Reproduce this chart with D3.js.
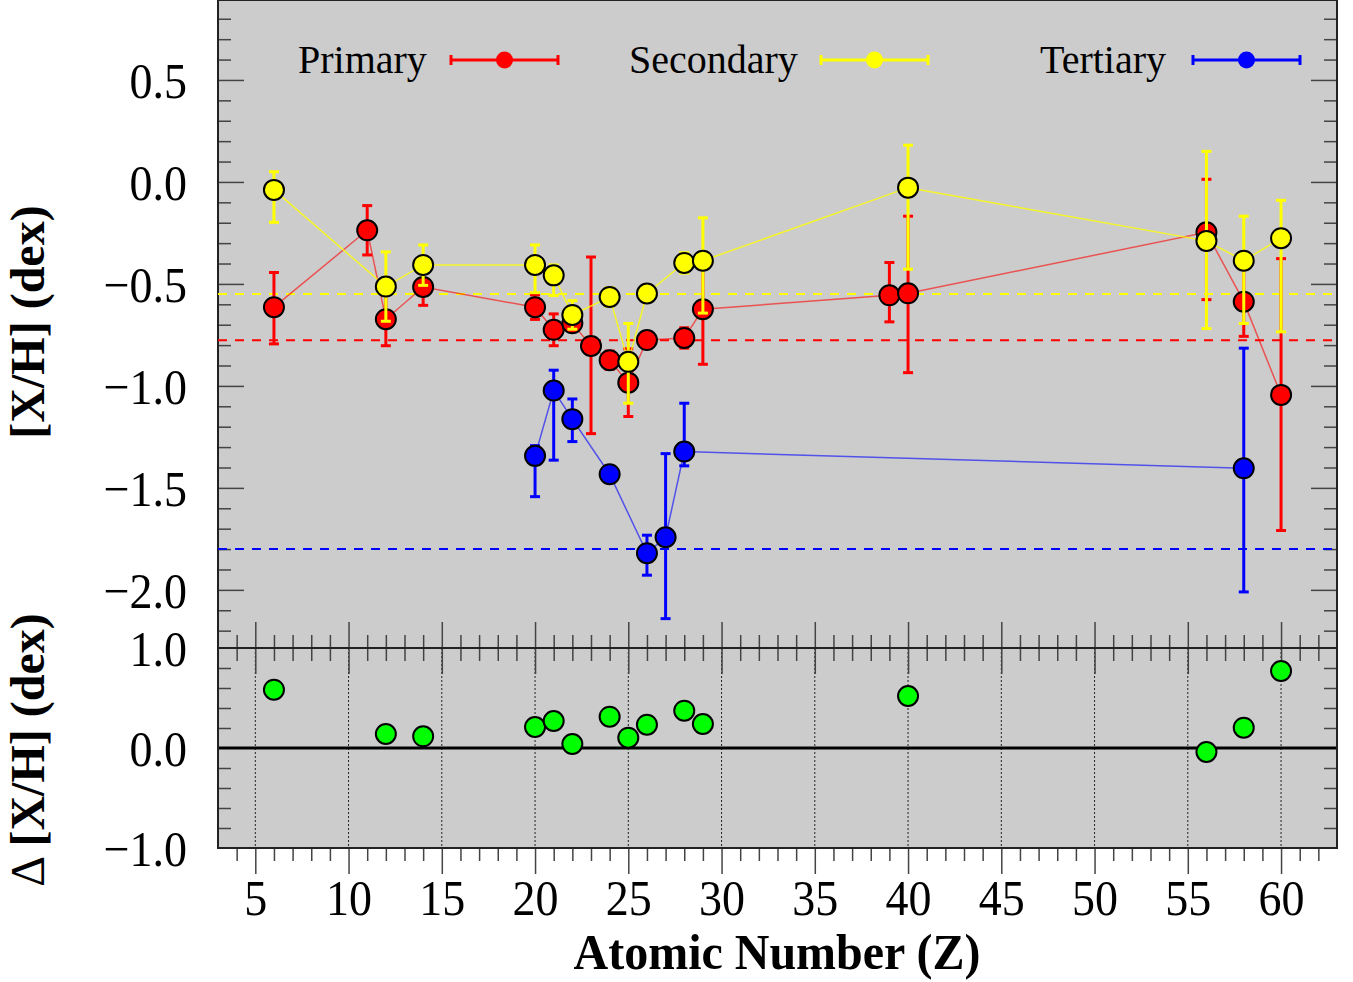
<!DOCTYPE html>
<html><head><meta charset="utf-8">
<script src="https://cdn.jsdelivr.net/npm/d3@7"></script>
<style>
body{margin:0;background:#fff}
svg text{font-family:"Liberation Serif","Times New Roman",serif;fill:#000}
</style>
</head><body>
<svg id="chart" width="1353" height="982"></svg>
<script>
// ---------------- DATA ----------------
const primaryZ     = [6, 11, 12, 14, 20, 21, 22, 23, 24, 25, 26, 28, 29, 39, 40, 56, 58, 60];
const primaryVal   = [-0.614, -0.237, -0.673, -0.515, -0.614, -0.725, -0.693, -0.804, -0.874, -0.984, -0.775, -0.765, -0.624, -0.556, -0.546, -0.247, -0.587, -1.044];
const primaryErrUp = [0.17, 0.121, 0.13, 0.09, 0.06, 0.078, 0.03, 0.436, 0.045, 0.166, 0.03, 0.05, 0.27, 0.161, 0.378, 0.26, 0.17, 0.668];
const primaryErrDn = [0.18, 0.121, 0.13, 0.09, 0.06, 0.078, 0.03, 0.43, 0.045, 0.166, 0.03, 0.05, 0.27, 0.13, 0.389, 0.33, 0.17, 0.665];

const secondaryZ     = [6, 12, 14, 20, 21, 22, 24, 25, 26, 28, 29, 40, 56, 58, 60];
const secondaryVal   = [-0.039, -0.513, -0.407, -0.407, -0.458, -0.652, -0.564, -0.882, -0.547, -0.397, -0.386, -0.028, -0.289, -0.386, -0.276];
const secondaryErrUp = [0.089, 0.17, 0.098, 0.098, 0.051, 0.07, 0.045, 0.188, 0.03, 0.05, 0.21, 0.208, 0.439, 0.218, 0.186];
const secondaryErrDn = [0.159, 0.17, 0.10, 0.136, 0.099, 0.07, 0.045, 0.203, 0.03, 0.05, 0.257, 0.40, 0.43, 0.308, 0.459];

const tertiaryZ     = [20, 21, 22, 24, 26, 27, 28, 58];
const tertiaryVal   = [-1.343, -1.023, -1.163, -1.433, -1.820, -1.742, -1.322, -1.404];
const tertiaryErrUp = [0.05, 0.10, 0.099, 0.0, 0.088, 0.41, 0.237, 0.589];
const tertiaryErrDn = [0.20, 0.341, 0.11, 0.0, 0.108, 0.399, 0.07, 0.606];

const meanPrimary = -0.776, meanSecondary = -0.549, meanTertiary = -1.80;

const deltaZ   = [6, 12, 14, 20, 21, 22, 24, 25, 26, 28, 29, 40, 56, 58, 60];
const deltaVal = [0.583, 0.14, 0.117, 0.21, 0.27, 0.04, 0.313, 0.103, 0.233, 0.373, 0.24, 0.52, -0.04, 0.203, 0.77];

const seriesNames  = ["Primary", "Secondary", "Tertiary"];
const seriesColors = ["#ff0000", "#ffff00", "#0000ff"];

const xTickValues    = [5, 10, 15, 20, 25, 30, 35, 40, 45, 50, 55, 60];
const yTopTickValues = [0.5, 0.0, -0.5, -1.0, -1.5, -2.0];
const yBotTickValues = [1.0, 0.0, -1.0];

// ---------------- LAYOUT ----------------
const L = 218, R = 1337, T1 = 0, B1 = 648, T2 = 648, B2 = 848;
const svg = d3.select("#chart");

const x = d3.scaleLinear().domain([3, 63]).range([L, R]);
const yTop = d3.scaleLinear().domain([-2.285, 0.892]).range([B1, T1]);
const yBot = d3.scaleLinear().domain([-1, 1]).range([B2, T2]);

// panel backgrounds
svg.append("rect").attr("x", L).attr("y", T1).attr("width", R - L).attr("height", B1 - T1).attr("fill", "#cccccc");
svg.append("rect").attr("x", L).attr("y", T2).attr("width", R - L).attr("height", B2 - T2).attr("fill", "#cccccc");

// dotted vertical grid in bottom panel
svg.append("g").selectAll("line").data(xTickValues).join("line")
  .attr("x1", d => x(d)).attr("x2", d => x(d)).attr("y1", T2).attr("y2", B2)
  .attr("stroke", "#222").attr("stroke-width", 1).attr("stroke-dasharray", "2,2");

// zero line
svg.append("line").attr("x1", L).attr("x2", R).attr("y1", yBot(0)).attr("y2", yBot(0))
  .attr("stroke", "#000").attr("stroke-width", 3);

// ---------------- TICKS ----------------
const minorX = d3.range(4, 63).filter(v => v % 5 !== 0);
const minorYTop = d3.range(-22, 9).map(v => v / 10).filter(v => Math.abs(v * 2 - Math.round(v * 2)) > 1e-6);
const minorYBot = [0.8, 0.6, 0.4, 0.2, -0.2, -0.4, -0.6, -0.8];
const tickColor = "#444";

function styleTicks(g) {
  g.select(".domain").remove();
  g.selectAll(".tick line").attr("stroke", tickColor).attr("stroke-width", 1.5);
}
function tickAxis(axisFn, scale, vals, size, tx, ty) {
  const g = svg.append("g").attr("transform", `translate(${tx},${ty})`)
    .call(axisFn(scale).tickValues(vals).tickSize(-size).tickFormat(""));
  styleTicks(g);
  return g;
}
// top panel
tickAxis(d3.axisTop, x, xTickValues, 26, 0, B1);
tickAxis(d3.axisTop, x, minorX, 13, 0, B1);
tickAxis(d3.axisBottom, x, xTickValues, 26, 0, T1);
tickAxis(d3.axisBottom, x, minorX, 13, 0, T1);
tickAxis(d3.axisRight, yTop, yTopTickValues, 26, R, 0);
tickAxis(d3.axisRight, yTop, minorYTop, 13, R, 0);
// bottom panel
tickAxis(d3.axisTop, x, xTickValues, 26, 0, B2);
tickAxis(d3.axisTop, x, minorX, 13, 0, B2);
tickAxis(d3.axisBottom, x, xTickValues, 26, 0, T2);
tickAxis(d3.axisBottom, x, minorX, 13, 0, T2);
tickAxis(d3.axisLeft, yBot, minorYBot, 13, L, 0);
tickAxis(d3.axisRight, yBot, minorYBot, 13, R, 0);

// labelled left axes
const fmt = d3.format(".1f");
const gTopLeft = svg.append("g").attr("transform", `translate(${L},0)`)
  .call(d3.axisLeft(yTop).tickValues(yTopTickValues).tickSize(-26).tickPadding(31).tickFormat(fmt));
styleTicks(gTopLeft);
svg.append("g").attr("transform", `translate(${L},0)`)
  .call(d3.axisLeft(yTop).tickValues(minorYTop).tickSize(-13).tickFormat("")).call(styleTicks);
const gBotLeft = svg.append("g").attr("transform", `translate(${L},0)`)
  .call(d3.axisLeft(yBot).tickValues(yBotTickValues).tickSize(0).tickPadding(31).tickFormat(fmt));
styleTicks(gBotLeft);
[gTopLeft, gBotLeft].forEach(g => g.selectAll(".tick text")
  .attr("font-size", 46).attr("dy", "0.35em").attr("transform", "scale(1,1.1)"));

// x axis labels
const gX = svg.append("g").attr("transform", `translate(0,${B2})`)
  .call(d3.axisBottom(x).tickValues(xTickValues).tickSize(0).tickFormat(d3.format("d")));
styleTicks(gX);
gX.selectAll(".tick text").attr("font-size", 46).attr("y", 0).attr("dy", 0)
  .attr("transform", "translate(0,67) scale(1,1.1)");

// frames
svg.append("rect").attr("x", L).attr("y", T1).attr("width", R - L).attr("height", B1 - T1)
  .attr("fill", "none").attr("stroke", "#222").attr("stroke-width", 2);
svg.append("rect").attr("x", L).attr("y", T2).attr("width", R - L).attr("height", B2 - T2)
  .attr("fill", "none").attr("stroke", "#222").attr("stroke-width", 2);

// ---------------- MEAN LINES ----------------
[meanPrimary, meanSecondary, meanTertiary].forEach((m, i) => {
  svg.append("line").attr("x1", L).attr("x2", R).attr("y1", yTop(m)).attr("y2", yTop(m))
    .attr("stroke", seriesColors[i]).attr("stroke-width", 2).attr("stroke-dasharray", "9,8");
});

// ---------------- SERIES ----------------
const series = [
  {z: primaryZ, v: primaryVal, up: primaryErrUp, dn: primaryErrDn},
  {z: secondaryZ, v: secondaryVal, up: secondaryErrUp, dn: secondaryErrDn},
  {z: tertiaryZ, v: tertiaryVal, up: tertiaryErrUp, dn: tertiaryErrDn}
];
const lineGen = d3.line().x(d => x(d.z)).y(d => yTop(d.v));
series.forEach((s, i) => {
  const col = seriesColors[i];
  const pts = s.z.map((z, k) => ({z, v: s.v[k], up: s.up[k], dn: s.dn[k]}));
  const g = svg.append("g");
  g.append("path").datum(pts).attr("d", lineGen).attr("fill", "none")
    .attr("stroke", col).attr("stroke-opacity", i === 1 ? 0.8 : 0.6).attr("stroke-width", 1.5);
  const eb = g.append("g").selectAll("g").data(pts.filter(d => d.up > 0 || d.dn > 0)).join("g")
    .attr("stroke", col).attr("stroke-width", 3);
  eb.append("line").attr("x1", d => x(d.z)).attr("x2", d => x(d.z))
    .attr("y1", d => yTop(d.v + d.up)).attr("y2", d => yTop(d.v - d.dn));
  eb.append("line").attr("x1", d => x(d.z) - 5).attr("x2", d => x(d.z) + 5)
    .attr("y1", d => yTop(d.v + d.up)).attr("y2", d => yTop(d.v + d.up));
  eb.append("line").attr("x1", d => x(d.z) - 5).attr("x2", d => x(d.z) + 5)
    .attr("y1", d => yTop(d.v - d.dn)).attr("y2", d => yTop(d.v - d.dn));
  g.append("g").selectAll("circle").data(pts).join("circle")
    .attr("cx", d => x(d.z)).attr("cy", d => yTop(d.v)).attr("r", 10)
    .attr("fill", col).attr("stroke", "#000").attr("stroke-width", 2);
});

// delta points
svg.append("g").selectAll("circle").data(deltaZ.map((z, k) => ({z, v: deltaVal[k]}))).join("circle")
  .attr("cx", d => x(d.z)).attr("cy", d => yBot(d.v)).attr("r", 10)
  .attr("fill", "#00ff00").attr("stroke", "#000").attr("stroke-width", 2);

// ---------------- LEGEND ----------------
const legendTextX = [298, 629, 1040];
const legendLineX = [451, 821, 1193];
const legendY = 60, legendLen = 107;
seriesNames.forEach((name, i) => {
  const col = seriesColors[i];
  svg.append("text").attr("x", legendTextX[i]).attr("y", legendY + 12.5)
    .attr("font-size", 40).text(name);
  const g = svg.append("g").attr("stroke", col).attr("stroke-width", 3);
  const x0 = legendLineX[i], x1 = x0 + legendLen;
  g.append("line").attr("x1", x0).attr("x2", x1).attr("y1", legendY).attr("y2", legendY);
  g.append("line").attr("x1", x0).attr("x2", x0).attr("y1", legendY - 5).attr("y2", legendY + 5);
  g.append("line").attr("x1", x1).attr("x2", x1).attr("y1", legendY - 5).attr("y2", legendY + 5);
  svg.append("circle").attr("cx", (x0 + x1) / 2).attr("cy", legendY).attr("r", 8.5).attr("fill", col);
});

// ---------------- AXIS TITLES ----------------
svg.append("text").attr("transform", "translate(777,969) scale(1,1.07)")
  .attr("text-anchor", "middle").attr("font-size", 48).attr("font-weight", "bold")
  .text("Atomic Number (Z)");
svg.append("text").attr("transform", "translate(44,322) rotate(-90)")
  .attr("text-anchor", "middle").attr("font-size", 48).attr("font-weight", "bold")
  .text("[X/H] (dex)");
const dt = svg.append("text").attr("transform", "translate(44,750) rotate(-90)")
  .attr("text-anchor", "middle").attr("font-size", 48).attr("font-weight", "bold");
dt.append("tspan").attr("font-weight", "normal").text("Δ ");
dt.append("tspan").text("[X/H] (dex)");
</script>
</body></html>
